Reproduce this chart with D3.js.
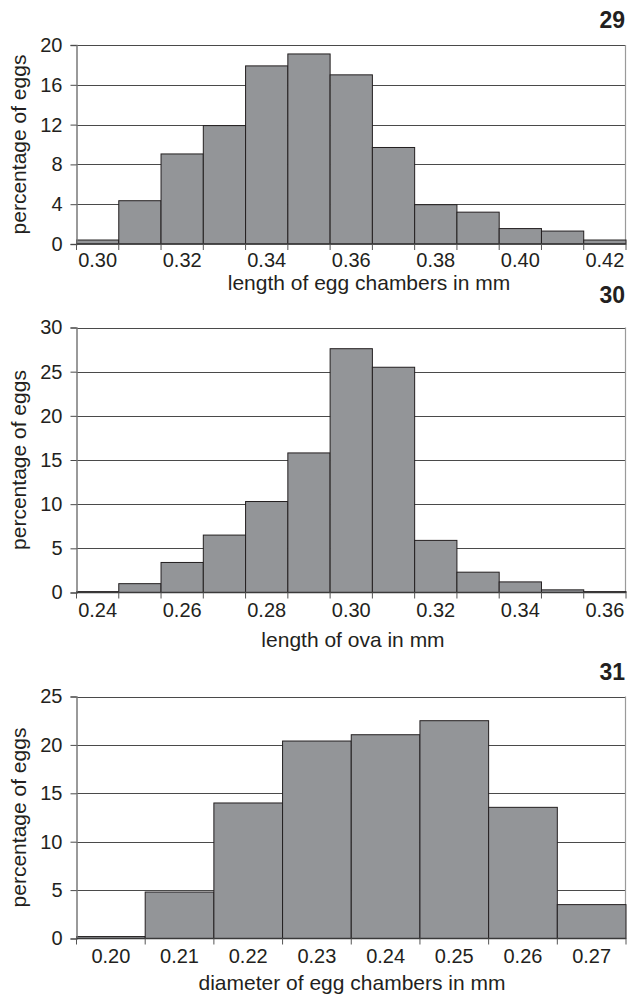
<!DOCTYPE html>
<html>
<head>
<meta charset="utf-8">
<script src="https://cdn.jsdelivr.net/npm/d3@7"></script>
<style>
  body { margin: 0; background: #fff; }
  svg { display: block; }
</style>
</head>
<body>
<div class="chart"></div>
<script>
// panel 29
const bins29 = ["0.30","0.31","0.32","0.33","0.34","0.35","0.36","0.37","0.38","0.39","0.40","0.41","0.42"]
const values29 = [0.4, 4.35, 9.05, 11.9, 17.9, 19.1, 17.0, 9.7, 3.95, 3.2, 1.55, 1.3, 0.4]
const yTicks29 = [0, 4, 8, 12, 16, 20]

// panel 30
const bins30 = ["0.24","0.25","0.26","0.27","0.28","0.29","0.30","0.31","0.32","0.33","0.34","0.35","0.36"]
const values30 = [0.1, 1.0, 3.4, 6.5, 10.3, 15.8, 27.6, 25.5, 5.9, 2.3, 1.2, 0.3, 0.1]
const yTicks30 = [0, 5, 10, 15, 20, 25, 30]

// panel 31
const bins31 = ["0.20","0.21","0.22","0.23","0.24","0.25","0.26","0.27"]
const values31 = [0.2, 4.8, 14.0, 20.4, 21.05, 22.5, 13.55, 3.5]
const yTicks31 = [0, 5, 10, 15, 20, 25]

const font = "'Liberation Sans', Arial, sans-serif"
const barFill = "#939598"
const barStroke = "#231f20"
const gridColor = "#4a4a4a"

const svg = d3.select(".chart").append("svg")
    .attr("width", 628)
    .attr("height", 1001)

const panels = [
  {num: "29", bins: bins29, values: values29, ticks: yTicks29, labelEvery: 2, pad: 9,
   top: 45, bottom: 244, title: "length of egg chambers in mm", titleX: 369, titleY: 290, numY: 28},
  {num: "30", bins: bins30, values: values30, ticks: yTicks30, labelEvery: 2, pad: 10,
   top: 327.5, bottom: 592.5, title: "length of ova in mm", titleX: 353, titleY: 647, numY: 303},
  {num: "31", bins: bins31, values: values31, ticks: yTicks31, labelEvery: 1, pad: 10,
   top: 696.5, bottom: 938.5, title: "diameter of egg chambers in mm", titleX: 352, titleY: 990, numY: 680}
]

const left = 76.5, right = 626

panels.forEach(p => {
  const g = svg.append("g")

  const x = d3.scaleBand().domain(p.bins).range([left, right]).padding(0)
  const y = d3.scaleLinear().domain([0, d3.max(p.ticks)]).range([p.bottom, p.top])

  // gridlines behind bars
  g.selectAll(".grid").data(p.ticks.filter(t => t > 0)).enter()
    .append("line")
    .attr("x1", left).attr("x2", right)
    .attr("y1", d => Math.round(y(d)) + 0.5).attr("y2", d => Math.round(y(d)) + 0.5)
    .attr("stroke", gridColor).attr("stroke-width", 1)

  // right border
  g.append("line")
    .attr("x1", right - 0.5).attr("x2", right - 0.5)
    .attr("y1", y(d3.max(p.ticks))).attr("y2", p.bottom)
    .attr("stroke", "#9a9a9a").attr("stroke-width", 1.2)

  // bars
  g.selectAll(".bar").data(p.values).enter()
    .append("rect")
    .attr("x", (d, i) => x(p.bins[i]))
    .attr("y", d => y(d))
    .attr("width", x.bandwidth())
    .attr("height", d => y(0) - y(d))
    .attr("fill", barFill)
    .attr("stroke", barStroke)
    .attr("stroke-width", 1)

  // y axis
  const yAxis = d3.axisLeft(y).tickValues(p.ticks).tickSize(6).tickPadding(8).tickFormat(d3.format("d"))
  const ya = g.append("g")
    .attr("transform", `translate(${left},0)`)
    .call(yAxis)
  ya.select(".domain").attr("stroke", "#7a7a7a").attr("stroke-width", 1.5)
  ya.selectAll(".tick line").attr("stroke", gridColor)
  ya.selectAll("text").attr("font-family", font).attr("font-size", "20px").attr("fill", "#231f20")

  // x axis labels
  const xAxis = d3.axisBottom(x).tickSize(0).tickPadding(p.pad)
      .tickFormat((d, i) => i % p.labelEvery === 0 ? d : "")
  const xa = g.append("g")
    .attr("transform", `translate(0,${p.bottom})`)
    .call(xAxis)
  xa.select(".domain").remove()
  xa.selectAll("text").attr("font-family", font).attr("font-size", "20px").attr("fill", "#231f20")

  // baseline and tick marks at bin edges
  g.append("line")
    .attr("x1", left).attr("x2", right)
    .attr("y1", p.bottom).attr("y2", p.bottom)
    .attr("stroke", "#3a3a3a").attr("stroke-width", 1.5)
  const edges = p.bins.map(b => x(b)).concat([x.range()[1]])
  g.selectAll(".xtick").data(edges).enter()
    .append("line")
    .attr("x1", d => d).attr("x2", d => d)
    .attr("y1", p.bottom).attr("y2", p.bottom + 6)
    .attr("stroke", "#555").attr("stroke-width", 1)

  // axis titles
  g.append("text")
    .attr("x", p.titleX).attr("y", p.titleY)
    .attr("text-anchor", "middle")
    .attr("font-family", font).attr("font-size", "21px").attr("fill", "#231f20")
    .text(p.title)

  g.append("text")
    .attr("transform", `translate(26,${(p.top + p.bottom) / 2}) rotate(-90)`)
    .attr("text-anchor", "middle")
    .attr("font-family", font).attr("font-size", "21px").attr("fill", "#231f20")
    .text("percentage of eggs")

  // panel number
  g.append("text")
    .attr("x", 625).attr("y", p.numY)
    .attr("text-anchor", "end")
    .attr("font-family", font).attr("font-size", "23px").attr("font-weight", "bold").attr("fill", "#231f20")
    .text(p.num)
})
</script>
</body>
</html>
